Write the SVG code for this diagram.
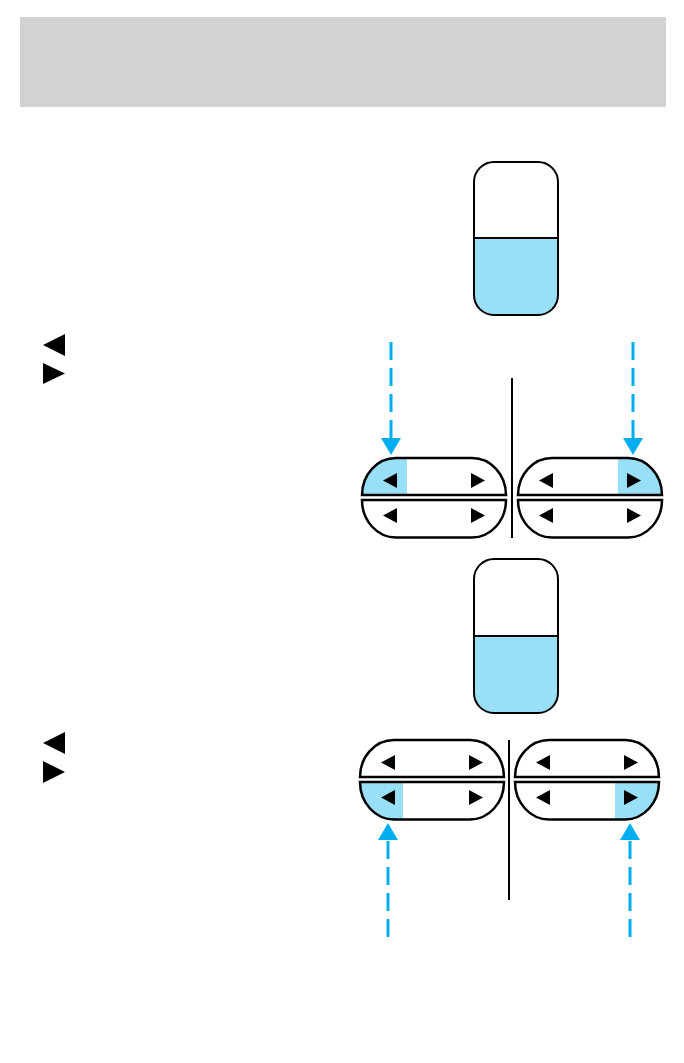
<svg xmlns="http://www.w3.org/2000/svg" width="684" height="1063" viewBox="0 0 684 1063">
<style>
.outline{fill:none;stroke:#000;stroke-width:2.5}
.win{fill:none;stroke:#000;stroke-width:2}
.hl{fill:#99dff7}
.tri{fill:#000}
.arr{stroke:#00aeef;stroke-width:3;stroke-dasharray:18 8;fill:none}
.head{fill:#00aeef}
.div{stroke:#000;stroke-width:2}
</style>
<defs>
<clipPath id="clipTop"><path d="M0,37 A34,37 0 0 1 34,0 H110 A34,37 0 0 1 144,37 Z"/></clipPath>
<clipPath id="clipBot"><path d="M0,42 H144 A34,37.5 0 0 1 110,79.5 H34 A34,37.5 0 0 1 0,42 Z"/></clipPath>
<g id="switch">
<path class="outline" d="M0,37 A34,37 0 0 1 34,0 H110 A34,37 0 0 1 144,37 Z"/>
<path class="outline" d="M0,42 H144 A34,37.5 0 0 1 110,79.5 H34 A34,37.5 0 0 1 0,42 Z"/>
<path class="tri" d="M35,15 L21,22.5 L35,30 Z"/>
<path class="tri" d="M109,15 L123,22.5 L109,30 Z"/>
<path class="tri" d="M35,50 L21,57.5 L35,65 Z"/>
<path class="tri" d="M109,50 L123,57.5 L109,65 Z"/>
</g>
</defs>

<rect id="header" x="20" y="17" width="646" height="90" fill="#d2d2d2"/>

<g id="symbols-1">
<path class="tri" d="M65,334 L43,345 L65,356 Z"/>
<path class="tri" d="M43,363 L65,373.5 L43,384 Z"/>
</g>
<g id="symbols-2">
<path class="tri" d="M65,732 L43,743 L65,754 Z"/>
<path class="tri" d="M43,761 L65,772 L43,783 Z"/>
</g>

<g id="window-1">
<path class="hl" d="M474,238 H558 V295 A20,20 0 0 1 538,315 H494 A20,20 0 0 1 474,295 Z"/>
<line class="win" x1="474" y1="238" x2="558" y2="238"/>
<rect class="win" x="474" y="162" width="84" height="153" rx="20"/>
</g>

<g id="window-2">
<path class="hl" d="M474,636 H558 V693 A20,20 0 0 1 538,713 H494 A20,20 0 0 1 474,693 Z"/>
<line class="win" x1="474" y1="636" x2="558" y2="636"/>
<rect class="win" x="474" y="559" width="84" height="154" rx="20"/>
</g>

<g id="switch-upper-left" transform="translate(362,458)">
<rect class="hl" x="0" y="0" width="45" height="40" clip-path="url(#clipTop)"/>
<use href="#switch"/>
</g>
<g id="switch-upper-right" transform="translate(518,458)">
<rect class="hl" x="100" y="0" width="44" height="40" clip-path="url(#clipTop)"/>
<use href="#switch"/>
</g>
<g id="switch-lower-left" transform="translate(360,740)">
<rect class="hl" x="0" y="41" width="43" height="40" clip-path="url(#clipBot)"/>
<use href="#switch"/>
</g>
<g id="switch-lower-right" transform="translate(515,740)">
<rect class="hl" x="100" y="41" width="44" height="40" clip-path="url(#clipBot)"/>
<use href="#switch"/>
</g>

<g id="connectors">
<line class="div" x1="512" y1="378" x2="512" y2="538"/>
<line class="div" x1="509" y1="740" x2="509" y2="900"/>
<line class="arr" x1="391" y1="342" x2="391" y2="438"/>
<path class="head" d="M381,438 L401,438 L391,455 Z"/>
<line class="arr" x1="633" y1="342" x2="633" y2="438"/>
<path class="head" d="M623,438 L643,438 L633,455 Z"/>
<line class="arr" x1="388" y1="937" x2="388" y2="840"/>
<path class="head" d="M378,840 L398,840 L388,823 Z"/>
<line class="arr" x1="630" y1="937" x2="630" y2="840"/>
<path class="head" d="M620,840 L640,840 L630,823 Z"/>
</g>
</svg>
